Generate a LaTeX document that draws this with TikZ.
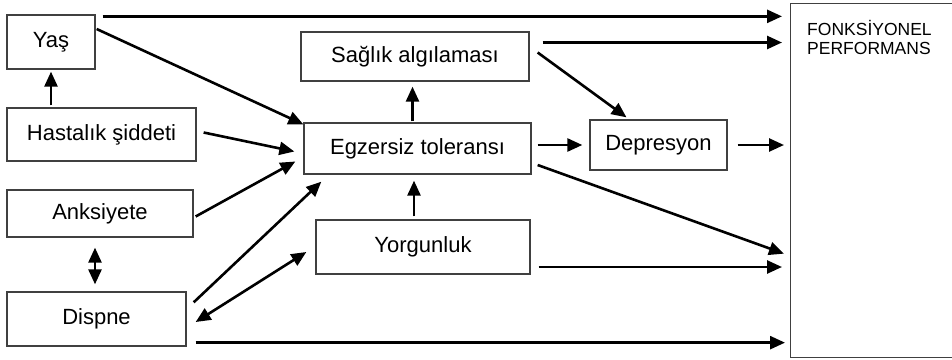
\documentclass[tikz,border=0pt]{standalone}
\usepackage{fontspec}
\setmainfont{Liberation Sans}
\usetikzlibrary{arrows.meta}
\usetikzlibrary{calc}

\tikzset{
  box/.style={draw=black!75, line width=1.3pt, rectangle, inner sep=0pt,
    font=\fontsize{22}{26}\selectfont},
  arr/.style={-{Triangle[length=15pt,width=13pt]}, line width=2.6pt},
  dbl/.style={{Triangle[length=15pt,width=13pt]}-{Triangle[length=15pt,width=13pt]}, line width=2.6pt},
}

\begin{document}
\begin{tikzpicture}[x=1pt,y=-1pt]
    \clip (0,0) rectangle (952,359);

    % Left column
    \node[box, minimum width=88pt, minimum height=54pt] (yas) at (51,42) {Yaş};
    \node[box, minimum width=189pt, minimum height=53pt] (hastalik) at (101.5,134.5) {Hastalık şiddeti};
    \node[box, minimum width=186pt, minimum height=47pt] (anksiyete) at (100,213.5) {Anksiyete};
    \node[box, minimum width=179pt, minimum height=54pt] (dispne) at (96.5,319) {Dispne};

    % Middle column
    \node[box, minimum width=228pt, minimum height=49pt] (saglik) at (415,56.5) {Sağlık algılaması};
    \node[box, minimum width=227pt, minimum height=51pt] (egzersiz) at (417.5,148.5) {Egzersiz toleransı};
    \node[box, minimum width=214pt, minimum height=54pt] (yorgunluk) at (423,247) {Yorgunluk};
    \node[box, minimum width=137pt, minimum height=50pt] (depresyon) at (658.5,145) {Depresyon};

    % Outcome
    \node[box, minimum width=170pt, minimum height=354pt, anchor=north west] (fp) at (790,3) {};
    \node[font=\fontsize{17.5}{19}\selectfont, align=left, anchor=base west, inner sep=0pt]
        (fptext) at (807,54) {FONKSİYONEL\\PERFORMANS};

    % Arrows into Egzersiz toleransi
    \draw[arr] ([shift={(1,-13)}]yas.east) -- ([shift={(0,2)}]egzersiz.north west);
    \draw[arr] ([shift={(7,-2)}]hastalik.east) -- ([shift={(-9,3)}]egzersiz.west);
    \draw[arr] ([shift={(2,3)}]anksiyete.east) -- ([shift={(-8,13)}]egzersiz.west);
    \draw[arr] ([shift={(7,11)}]dispne.north east) -- ([shift={(18,7)}]egzersiz.south west);
    \draw[arr] ([xshift=-9pt,yshift=3pt]yorgunluk.north) -- ([xshift=-9pt,yshift=-6pt]yorgunluk.north |- egzersiz.south);

    % Left column links
    \draw[arr] ([yshift=2pt]yas.south |- hastalik.north) -- ([yshift=-2pt]yas.south);
    \draw[dbl] ([xshift=-5pt,yshift=-10pt]anksiyete.south) -- ([xshift=-5pt,yshift=7pt]anksiyete.south |- dispne.north);
    \draw[dbl] ([shift={(9,3)}]dispne.east) -- ([shift={(-9,5)}]yorgunluk.west);

    % Middle links
    \draw[arr] ([xshift=-5pt,yshift=1pt]egzersiz.north) -- ([xshift=-5pt,yshift=-5pt]egzersiz.north |- saglik.south);
    \draw[arr] ([shift={(8,-4)}]saglik.east) -- ([shift={(-32,-2)}]depresyon.north);
    \draw[arr] ([xshift=6pt]egzersiz.east |- depresyon.west) -- ([xshift=-7pt]depresyon.west);

    % Arrows into Fonksiyonel performans
    \draw[arr] ([shift={(7,2)}]yas.north east) -- ([shift={(-8,2)}]yas.north east -| fp.west);
    \draw[arr] ([shift={(13,-14)}]saglik.east) -- ([shift={(-8,-14)}]saglik.east -| fp.west);
    \draw[arr] ([xshift=10pt]depresyon.east) -- ([xshift=-6pt]depresyon.east -| fp.west);
    \draw[arr] ([shift={(6,16.5)}]egzersiz.east) -- ([shift={(-6,73)}]fp.west);
    \draw[arr] ([shift={(8,20)}]yorgunluk.east) -- ([shift={(-8,20)}]yorgunluk.east -| fp.west);
    \draw[arr] ([shift={(9,-4)}]dispne.south east) -- ([shift={(-5,-4)}]dispne.south east -| fp.west);
\end{tikzpicture}
\end{document}
